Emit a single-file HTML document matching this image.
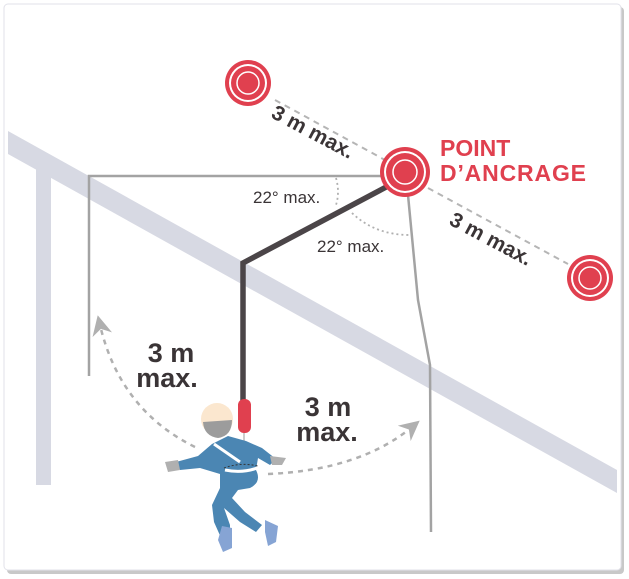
<!DOCTYPE html>
<html><head><meta charset="utf-8"><style>
html,body{margin:0;padding:0;background:#fff;}
svg{display:block;font-family:"Liberation Sans",sans-serif;}
</style></head><body>
<svg width="629" height="579" viewBox="0 0 629 579" xmlns="http://www.w3.org/2000/svg">
<defs>
<marker id="ah" viewBox="0 0 10 10" refX="5" refY="5" markerWidth="8" markerHeight="8" orient="auto"><path d="M0,0 L10,5 L0,10 L3,5 Z" fill="#b0b0b0"/></marker>
</defs>
<rect x="0" y="0" width="629" height="579" fill="#fff"/>
<rect x="7" y="7" width="617" height="567" rx="4" fill="#c8c8c8"/>
<rect x="4" y="4" width="617" height="566" rx="4" fill="#fff" stroke="#e2e2ea" stroke-width="1"/>
<polygon points="8,131 617,470 617,493 8,154" fill="#d7d9e3"/>
<rect x="36" y="162" width="15" height="323" fill="#d7d9e3"/>
<polyline points="89,376 89,176 392,176" fill="none" stroke="#a3a3a3" stroke-width="2.5"/>
<polyline points="408,195 418,300 430,365 431,532" fill="none" stroke="#a3a3a3" stroke-width="2.5"/>
<line x1="275" y1="100" x2="385" y2="160" stroke="#b5b5b5" stroke-width="2" stroke-dasharray="6,5"/>
<line x1="428" y1="188" x2="568" y2="264" stroke="#b5b5b5" stroke-width="2" stroke-dasharray="6,5"/>
<path d="M336,178 Q340,192 336,205" fill="none" stroke="#b0b0b0" stroke-width="1.8" stroke-dasharray="2,3"/>
<path d="M352,213 Q375,235 410,235" fill="none" stroke="#b0b0b0" stroke-width="1.8" stroke-dasharray="2,3"/>
<polyline points="390,185 243,263 243,402" fill="none" stroke="#4b4548" stroke-width="5.5"/>
<rect x="238" y="399" width="13" height="34" rx="6" fill="#e0404f"/>
<line x1="244" y1="433" x2="244" y2="445" stroke="#bbb" stroke-width="1.5"/>
<g fill="#e0404f">
<circle cx="248" cy="83" r="23"/><circle cx="248" cy="83" r="19" fill="#fff"/><circle cx="248" cy="83" r="17"/><circle cx="248" cy="83" r="11" fill="none" stroke="#fff" stroke-width="1.5"/>
<circle cx="405" cy="172" r="25"/><circle cx="405" cy="172" r="21" fill="#fff"/><circle cx="405" cy="172" r="19"/><circle cx="405" cy="172" r="12" fill="none" stroke="#fff" stroke-width="1.5"/>
<circle cx="590" cy="278" r="23"/><circle cx="590" cy="278" r="19" fill="#fff"/><circle cx="590" cy="278" r="17"/><circle cx="590" cy="278" r="11" fill="none" stroke="#fff" stroke-width="1.5"/>
</g>
<text x="270" y="117" font-size="21" font-weight="bold" fill="#3a3436" transform="rotate(28 270 117)">3 m max.</text>
<text x="448" y="224" font-size="21" font-weight="bold" fill="#3a3436" transform="rotate(28 448 224)">3 m max.</text>
<text x="440" y="156" font-size="23" font-weight="bold" fill="#e0404f">POINT</text>
<text x="440" y="181" font-size="23" font-weight="bold" fill="#e0404f" textLength="146">D’ANCRAGE</text>
<text x="253" y="203" font-size="17" fill="#3a3436">22° max.</text>
<text x="317" y="252" font-size="17" fill="#3a3436">22° max.</text>
<text x="171" y="362" font-size="27" font-weight="bold" fill="#3a3436" text-anchor="middle">3 m</text>
<text x="167" y="387" font-size="27" font-weight="bold" fill="#3a3436" text-anchor="middle">max.</text>
<text x="328" y="416" font-size="27" font-weight="bold" fill="#3a3436" text-anchor="middle">3 m</text>
<text x="327" y="441" font-size="27" font-weight="bold" fill="#3a3436" text-anchor="middle">max.</text>
<path d="M195,447 Q120,410 100,325" fill="none" stroke="#b0b0b0" stroke-width="2.5" stroke-dasharray="5,5" marker-end="url(#ah)"/>
<path d="M268,474 Q360,470 412,427" fill="none" stroke="#b0b0b0" stroke-width="2.5" stroke-dasharray="5,5" marker-end="url(#ah)"/>
<g>
<circle cx="217" cy="419" r="16" fill="#fbe7cf"/>
<path d="M203,422 L232,420 Q232,436 218,438 Q204,436 203,422 Z" fill="#9c9c9c"/>
<path d="M228,436 L246,441 L262,448 L276,459 L270,465 L258,458 L256,470 Q262,482 250,488 L238,490 L232,498 L245,512 L262,525 L256,532 L240,522 L224,508 L230,525 L230,538 L222,540 L214,522 L212,505 L220,488 L220,474 L200,468 L180,470 L176,462 L198,456 L212,444 Z" fill="#4b86b3"/>
<path d="M214,444 L240,462 M225,470 Q245,474 262,466" stroke="#fff" stroke-width="3" fill="none"/>
<path d="M224,468 Q240,462 258,466" stroke="#333" stroke-width="1" stroke-dasharray="2,2" fill="none"/>
<path d="M165,462 L178,460 L180,470 L168,472 Z" fill="#b0b0b0"/>
<path d="M270,456 L286,458 L282,465 L272,465 Z" fill="#b0b0b0"/>
<path d="M222,526 L232,528 L232,548 L223,552 L218,540 Z" fill="#86a4d4"/>
<path d="M265,520 L278,526 L276,542 L268,546 L265,532 Z" fill="#86a4d4"/>
</g>
</svg>
</body></html>
